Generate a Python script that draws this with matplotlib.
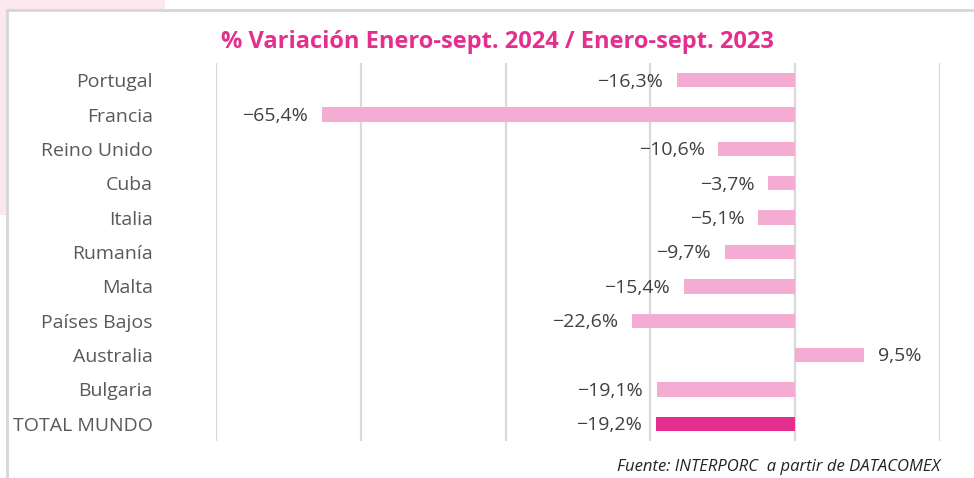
import matplotlib.pyplot as plt
from matplotlib.patches import Rectangle

paises = ['Portugal', 'Francia', 'Reino Unido', 'Cuba', 'Italia', 'Rumanía',
          'Malta', 'Países Bajos', 'Australia', 'Bulgaria', 'TOTAL MUNDO']
variacion = [-16.3, -65.4, -10.6, -3.7, -5.1, -9.7, -15.4, -22.6, 9.5, -19.1, -19.2]

rosa = '#F4ACD3'
fucsia = '#E42F8E'
colores = [rosa] * (len(paises) - 1) + [fucsia]

plt.rcParams['font.family'] = ['Open Sans', 'DejaVu Sans']

fig = plt.figure(figsize=(9.74, 4.78), dpi=100)
fig.patch.set_facecolor('white')

# fondo rosa de la esquina y marco gris del panel
fig.patches.append(Rectangle((0, 1 - 215 / 478), 165 / 974, 215 / 478,
                             transform=fig.transFigure, facecolor='#FCE6F0',
                             edgecolor='none', zorder=0))
fig.patches.append(Rectangle((7 / 974, -0.1), 1.2, 1 - 10 / 478 + 0.1,
                             transform=fig.transFigure, facecolor='white',
                             edgecolor='#D6D6D6', linewidth=2, zorder=1))

ax = fig.add_axes([216 / 974, 37 / 478, (940 - 216) / 974, (441 - 63) / 478])
ax.set_facecolor('none')
ax.set_zorder(3)

y = range(len(paises))
ax.barh(y, variacion, height=0.42, color=colores, zorder=3)

ax.set_xlim(-80, 20)
ax.set_ylim(len(paises) - 0.5, -0.5)
ax.set_xticks([-80, -60, -40, -20, 0, 20])
ax.xaxis.grid(True, color='#D9D9D9', linewidth=1.6)
ax.tick_params(axis='x', bottom=False, labelbottom=False)
ax.tick_params(axis='y', left=False, pad=42, labelsize=14, labelcolor='#595959')
ax.set_yticks(list(y))
ax.set_yticklabels(paises)
for s in ax.spines.values():
    s.set_visible(False)

for i, v in enumerate(variacion):
    txt = f'{v:.1f}%'.replace('.', ',').replace('-', '\u2212')
    if v < 0:
        ax.annotate(txt, (v, i), xytext=(-10, -1), textcoords='offset points',
                    ha='right', va='center', fontsize=14, color='#404040')
    else:
        ax.annotate(txt, (v, i), xytext=(10, -1), textcoords='offset points',
                    ha='left', va='center', fontsize=14, color='#404040')

t1 = fig.text(497 / 974, 1 - 42 / 478, '% Variación Enero-sept. 2024 / Enero-sept. 2023',
              ha='center', va='center', fontsize=17, fontweight='bold', color=fucsia)
t2 = fig.text(940 / 974, 1 - 467 / 478, 'Fuente: INTERPORC  a partir de DATACOMEX',
              ha='right', va='center', fontsize=12, style='italic', color='#222222')
t1.set_zorder(4)
t2.set_zorder(4)

fig.savefig('out.png', dpi=100, facecolor=fig.get_facecolor())
